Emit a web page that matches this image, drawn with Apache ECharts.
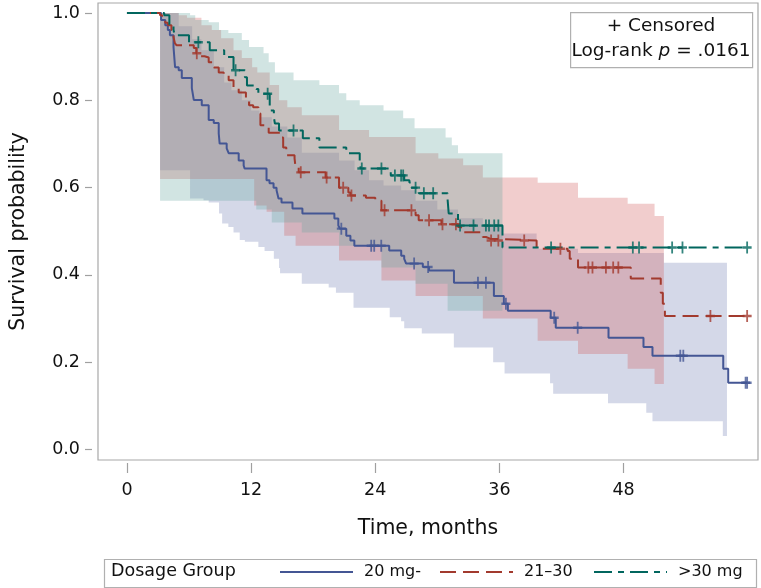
<!DOCTYPE html>
<html><head><meta charset="utf-8">
<script src="https://cdn.jsdelivr.net/npm/echarts@6/dist/echarts.min.js"></script>
<style>html,body{margin:0;padding:0;background:#fff}#c{width:761px;height:588px}</style>
</head><body><div id="c"></div>
<script>
// ---- data ----
const xTicks = [0, 12, 24, 36, 48];
const yTicks = [0, 0.2, 0.4, 0.6, 0.8, 1.0];
const groups = ['20 mg-', '21–30', '>30 mg'];

// KM step curves [time, survival]
const curve20 = [[0,1],[3.3,0.984],[3.7,0.972],[3.95,0.961],[4.15,0.949],[4.5,0.922],[4.65,0.876],[5.0,0.869],[5.3,0.851],[6.27,0.828],[6.46,0.801],[7.23,0.789],[7.9,0.755],[8.39,0.748],[8.87,0.724],[8.96,0.701],[9.64,0.69],[9.83,0.679],[10.8,0.662],[11.28,0.651],[11.37,0.644],[13.49,0.617],[13.78,0.61],[14.17,0.6],[14.46,0.594],[14.65,0.575],[14.94,0.566],[16.0,0.552],[16.96,0.541],[20.05,0.529],[20.43,0.513],[20.6,0.506],[21.2,0.49],[21.6,0.479],[21.98,0.467],[25.35,0.456],[26.51,0.444],[26.8,0.437],[26.99,0.426],[28.6,0.418],[29.2,0.41],[31.61,0.382],[35.47,0.352],[36.43,0.334],[36.82,0.318],[40.96,0.302],[41.45,0.279],[46.55,0.256],[49.93,0.235],[50.8,0.215],[57.64,0.185],[58.12,0.153],[59.95,0.153]];
const curve21 = [[0,1],[3.2,0.995],[3.4,0.989],[3.7,0.978],[3.95,0.972],[4.3,0.961],[4.5,0.945],[4.63,0.931],[4.8,0.926],[6.46,0.92],[6.7,0.908],[7.0,0.901],[7.5,0.898],[7.9,0.887],[8.4,0.875],[8.87,0.864],[9.35,0.857],[9.83,0.846],[10.3,0.83],[10.8,0.818],[11.5,0.803],[11.8,0.789],[12.2,0.784],[12.7,0.77],[12.9,0.743],[13.3,0.738],[13.7,0.726],[14.8,0.715],[15.1,0.692],[15.4,0.674],[16.2,0.667],[16.3,0.646],[16.6,0.635],[19.2,0.623],[20.5,0.6],[21.4,0.589],[21.6,0.582],[23.1,0.577],[24.0,0.57],[24.6,0.548],[27.9,0.537],[28.2,0.525],[30.4,0.516],[32.0,0.51],[32.3,0.498],[34.4,0.487],[34.7,0.483],[35.1,0.479],[39.6,0.46],[42.6,0.455],[42.8,0.437],[43.6,0.417],[48.7,0.392],[51.6,0.359],[51.8,0.334],[52.0,0.306],[59.95,0.306]];
const curve30 = [[0,1],[3.6,0.995],[4.1,0.972],[4.5,0.961],[4.63,0.949],[6.0,0.933],[8.0,0.915],[9.4,0.899],[10.3,0.869],[11.4,0.853],[11.6,0.834],[12.5,0.826],[12.7,0.815],[13.8,0.777],[14.2,0.761],[14.3,0.747],[14.7,0.731],[17.0,0.713],[18.6,0.692],[21.2,0.679],[22.5,0.655],[22.6,0.644],[25.5,0.628],[26.8,0.617],[27.3,0.612],[27.5,0.6],[28.2,0.587],[31.0,0.571],[31.1,0.541],[32.0,0.513],[36.3,0.463],[59.95,0.463]];

// censoring times
const cens20 = [20.72,23.61,23.9,24.58,27.76,29.11,33.93,34.7,36.63,41.3,43.57,53.49,53.78,59.8,59.95];
const cens21 = [6.75,16.8,19.3,20.9,21.7,24.9,27.5,29.2,30.5,31.8,35.2,35.9,38.4,41.9,44.6,45.0,46.3,47.0,47.5,56.4,59.95];
const cens30 = [6.9,10.5,13.6,16.1,22.7,24.6,25.9,26.5,26.7,27.9,28.7,29.6,32.2,33.5,34.7,35.0,35.5,35.9,41.0,48.9,49.5,52.7,53.7,59.95];

// confidence bands (step [time, bound])
const band20Upper = [[3.2,1.0],[5.0,0.97],[6.3,0.94],[7.2,0.915],[8.4,0.876],[9.4,0.841],[10.1,0.823],[11.1,0.80],[12.0,0.777],[12.8,0.761],[14.0,0.74],[15.5,0.715],[16.9,0.68],[20.5,0.662],[22.0,0.64],[23.4,0.617],[24.8,0.605],[26.5,0.594],[27.9,0.57],[30.0,0.55],[32.0,0.53],[34.4,0.51],[36.3,0.495],[39.6,0.46],[43.6,0.45],[51.9,0.428]];
const band20Lower = [[3.2,0.64],[6.1,0.575],[7.4,0.571],[7.9,0.566],[8.9,0.541],[9.2,0.518],[9.8,0.51],[10.3,0.497],[10.9,0.48],[11.4,0.476],[12.7,0.464],[13.3,0.455],[14.2,0.437],[14.7,0.416],[14.8,0.404],[16.9,0.38],[19.5,0.371],[20.2,0.359],[21.9,0.325],[25.4,0.303],[26.5,0.294],[26.8,0.278],[28.5,0.266],[31.6,0.234],[35.4,0.2],[36.5,0.174],[40.9,0.152],[41.2,0.128],[46.5,0.106],[50.2,0.084],[50.8,0.065],[57.6,0.031]];
const band20End = 58.0;
const band21Upper = [[3.2,1.0],[5.0,0.995],[5.8,0.989],[7.2,0.972],[8.2,0.961],[9.1,0.942],[10.3,0.915],[11.1,0.897],[12.1,0.876],[12.6,0.864],[13.8,0.835],[14.7,0.80],[15.5,0.784],[16.9,0.766],[20.5,0.732],[23.4,0.716],[27.9,0.679],[30.1,0.667],[32.5,0.651],[34.4,0.623],[39.7,0.611],[43.6,0.577],[48.4,0.563],[51.0,0.535]];
const band21Lower = [[3.2,0.62],[12.3,0.559],[13.5,0.545],[15.2,0.49],[16.3,0.467],[20.5,0.433],[24.6,0.387],[27.9,0.352],[34.4,0.30],[39.7,0.249],[43.6,0.219],[48.4,0.185],[51.0,0.15]];
const band21End = 51.9;
const band30Upper = [[3.2,1.0],[6.1,0.995],[6.6,0.984],[7.9,0.979],[8.9,0.961],[9.8,0.954],[11.1,0.938],[11.8,0.922],[13.2,0.908],[13.7,0.887],[14.3,0.864],[16.1,0.846],[18.6,0.835],[20.5,0.816],[21.2,0.80],[22.5,0.789],[24.8,0.777],[26.7,0.759],[27.8,0.736],[30.8,0.715],[31.4,0.697],[32.0,0.679]];
const band30Lower = [[3.2,0.57],[12.5,0.55],[14.0,0.52],[16.9,0.497],[20.5,0.467],[24.6,0.417],[27.9,0.38],[31.0,0.318]];
const band30End = 36.3;

// ---- styling ----
const colors = ['#445694', '#A23A2E', '#01665E'];
const bandFills = ['rgba(111,126,179,0.30)', 'rgba(208,91,91,0.30)', 'rgba(102,165,160,0.30)'];
const FONT = "'DejaVu Sans', 'Liberation Sans', Arial, sans-serif";
const TXT = '#111';
const legendLeft = [279, 439, 593];

function survAt(curve, t) {
  let s = curve[0][1];
  for (const p of curve) { if (p[0] <= t) s = p[1]; else break; }
  return s;
}
function bandPoints(api, upper, lower, end) {
  const pts = [];
  for (let i = 0; i < upper.length; i++) {
    const t1 = i + 1 < upper.length ? upper[i + 1][0] : end;
    pts.push(api.coord([upper[i][0], upper[i][1]]), api.coord([t1, upper[i][1]]));
  }
  for (let i = lower.length - 1; i >= 0; i--) {
    const t1 = i + 1 < lower.length ? lower[i + 1][0] : end;
    pts.push(api.coord([t1, lower[i][1]]), api.coord([lower[i][0], lower[i][1]]));
  }
  return pts;
}
function bandSeries(upper, lower, end, fill) {
  return {
    type: 'custom', silent: true, z: 1, clip: true,
    data: [[upper[0][0], upper[0][1]]],
    renderItem: (params, api) => ({
      type: 'polygon',
      shape: { points: bandPoints(api, upper, lower, end) },
      style: { fill: fill, stroke: null }
    })
  };
}
const plusPath = 'path://M4,0H6V4H10V6H6V10H4V6H0V4H4Z';
function censSeries(curve, cens, color) {
  return {
    type: 'scatter', silent: true, z: 4,
    symbol: plusPath, symbolSize: [9, 12],
    itemStyle: { color: color },
    data: cens.map(t => [t, survAt(curve, t)])
  };
}
const curves = [curve20, curve21, curve30];
const censList = [cens20, cens21, cens30];
const dashes = ['solid', [16, 7], [18, 6, 6, 6]];

const series = [
  bandSeries(band20Upper, band20Lower, band20End, bandFills[0]),
  bandSeries(band21Upper, band21Lower, band21End, bandFills[1]),
  bandSeries(band30Upper, band30Lower, band30End, bandFills[2])
];
groups.forEach((g, i) => {
  series.push({
    name: g, type: 'line', step: 'end', data: curves[i], z: 3,
    symbol: 'none', showSymbol: false,
    lineStyle: { color: colors[i], width: 2, type: dashes[i] },
    itemStyle: { color: colors[i] }
  });
});
groups.forEach((g, i) => series.push(censSeries(curves[i], censList[i], colors[i])));

const legends = groups.map((g, i) => ({
  data: [g], left: legendLeft[i], top: 564, padding: 0, itemWidth: 73, itemHeight: 14,
  selectedMode: false, itemStyle: { opacity: 0 },
  textStyle: { fontSize: 16, color: TXT, fontFamily: FONT, padding: [0, 0, 0, 6] }
}));

const chart = echarts.init(document.getElementById('c'), null, { renderer: 'canvas' });
chart.setOption({
  animation: false,
  backgroundColor: '#fff',
  textStyle: { fontFamily: FONT },
  grid: { left: 96, right: 3, top: 3, bottom: 128, show: true, borderColor: '#a8a8a8', borderWidth: 1.2, backgroundColor: 'transparent' },
  xAxis: {
    type: 'value', min: -2.8, max: 61.0, offset: 3,
    axisLine: { show: false, onZero: false },
    axisTick: { show: true, length: 10, customValues: xTicks, lineStyle: { color: '#a0a0a0', width: 1.2 } },
    axisLabel: { customValues: xTicks, margin: 18, fontSize: 17.5, color: TXT, fontFamily: FONT },
    splitLine: { show: false },
    name: 'Time, months', nameLocation: 'middle', nameGap: 55,
    nameTextStyle: { fontSize: 20.5, color: TXT, fontFamily: FONT }
  },
  yAxis: {
    type: 'value', min: -0.024, max: 1.023, offset: 6,
    axisLine: { show: false, onZero: false },
    axisTick: { show: true, length: 7, customValues: yTicks, lineStyle: { color: '#a0a0a0', width: 1.2 } },
    axisLabel: { customValues: yTicks, margin: 12, fontSize: 17.5, color: TXT, fontFamily: FONT, formatter: v => v.toFixed(1) },
    splitLine: { show: false },
    name: 'Survival probability', nameLocation: 'middle', nameGap: 63,
    nameTextStyle: { fontSize: 20.5, color: TXT, fontFamily: FONT }
  },
  legend: legends,
  graphic: [
    { type: 'rect', left: 102, top: 557, shape: { width: 652, height: 28 }, style: { fill: 'none', stroke: '#b0b0b0', lineWidth: 1.2 }, silent: true },
    { type: 'text', x: 111, y: 571, silent: true, style: { text: 'Dosage Group', fontSize: 17.5, fontFamily: FONT, fill: TXT, verticalAlign: 'middle' } },
    { type: 'rect', left: 570, top: 12, shape: { width: 182, height: 55 }, style: { fill: '#fff', stroke: '#b0b0b0', lineWidth: 1.2 }, silent: true, z: 10 },
    { type: 'text', x: 661, y: 26, z: 11, silent: true, style: { text: '+ Censored', fontSize: 18.5, fontFamily: FONT, fill: TXT, align: 'center', verticalAlign: 'middle' } },
    { type: 'text', x: 661, y: 51, z: 11, silent: true, style: {
        text: '{n|Log-rank }{i|p}{n| = .0161}', align: 'center', verticalAlign: 'middle',
        rich: { n: { fontSize: 18.5, fontFamily: FONT, fill: TXT }, i: { fontSize: 18.5, fontFamily: FONT, fontStyle: 'italic', fill: TXT } } } }
  ],
  series: series
});
</script>
</body></html>
